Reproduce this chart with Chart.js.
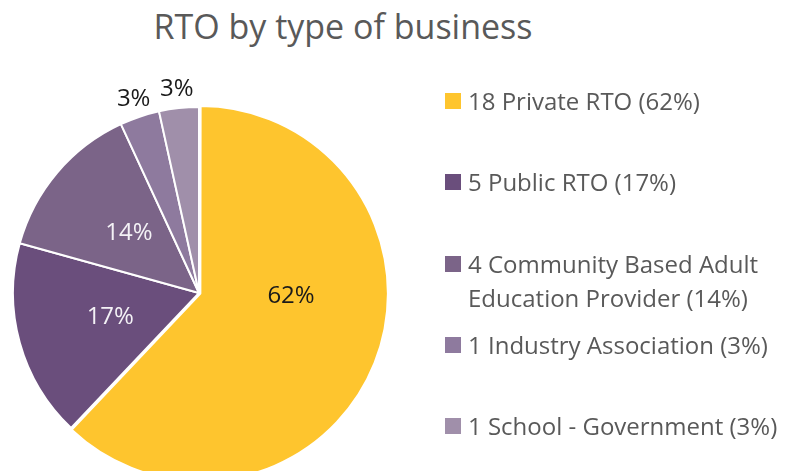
<!DOCTYPE html>
<html>
<head>
<meta charset="utf-8">
<title>RTO by type of business</title>
<script src="https://cdn.jsdelivr.net/npm/chart.js@4.4.1/dist/chart.umd.min.js"></script>
<style>
  body { margin: 0; background: #fff; font-family: "Open Sans", sans-serif; }
  #wrap { position: relative; width: 788px; height: 471px; overflow: hidden; }
  #title { position: absolute; left: 0; top: 9px; width: 686px; text-align: center;
           font-size: 34px; line-height: 34px; color: #595959; }
  canvas { position: absolute; left: 0; top: 0; }
  .item { position: absolute; left: 445px; width: 343px; font-size: 24px; line-height: 34px; color: #595959; }
  .item .box { position: absolute; left: 0; top: 9px; width: 16px; height: 16px; }
  .item .txt { margin-left: 23px; width: 326px; }
</style>
</head>
<body>
<div id="wrap">
  <div id="title">RTO by type of business</div>
  <canvas id="chart" width="788" height="471"></canvas>
  <div id="legend"></div>
</div>
<script>
// RTO counts by type of business
const categories = ["Private RTO", "Public RTO", "Community Based Adult Education Provider", "Industry Association", "School - Government"];
const counts = [18, 5, 4, 1, 1];
const colors = ["#FEC52E", "#6A4E7C", "#7B6488", "#8E7A9E", "#A08FAA"];

const total = counts.reduce((a, b) => a + b, 0);
const pct = counts.map(v => Math.round(v / total * 100));

// legend on the right, one slot per type
const legend = document.getElementById("legend");
categories.forEach((name, i) => {
    const item = document.createElement("div");
    item.className = "item";
    item.style.top = (84 + i * 81.3) + "px";
    item.innerHTML = `<span class="box" style="background:${colors[i]}"></span>` +
        `<div class="txt">${counts[i]} ${name} (${pct[i]}%)</div>`;
    legend.appendChild(item);
});

// label placement: big slice label is turned a bit towards 3 o'clock
const labelTurn = [-20, 0, 0, 0, 0];

const pieLabels = {
    id: "pieLabels",
    afterDatasetsDraw(chart) {
        const ctx = chart.ctx;
        const meta = chart.getDatasetMeta(0);
        ctx.save();
        ctx.font = "24px 'Open Sans', sans-serif";
        ctx.textAlign = "center";
        ctx.textBaseline = "middle";
        meta.data.forEach((arc, i) => {
            const p = arc.getProps(["x", "y", "startAngle", "endAngle", "outerRadius"], true);
            const mid = (p.startAngle + p.endAngle) / 2 + labelTurn[i] * Math.PI / 180;
            const outside = pct[i] < 5;
            const r = p.outerRadius * (outside ? 1.1 : 0.495);
            const x = p.x + Math.cos(mid) * r;
            const y = p.y + Math.sin(mid) * r;
            ctx.fillStyle = (outside || i === 0) ? "#1a1a1a" : "#f4f2f6";
            ctx.fillText(pct[i] + "%", x, y);
        });
        ctx.restore();
    }
};

new Chart(document.getElementById("chart"), {
    type: "pie",
    data: {
        labels: categories,
        datasets: [{
            data: counts,
            backgroundColor: colors,
            borderColor: "#ffffff",
            borderWidth: 2,
            offset: [6, 0, 0, 0, 0],
            clip: false
        }]
    },
    options: {
        responsive: false,
        animation: false,
        radius: 186,
        layout: { padding: { left: 12, right: 402, top: 120, bottom: 5 } },
        plugins: {
            legend: { display: false },
            tooltip: { enabled: false }
        }
    },
    plugins: [pieLabels]
});
</script>
</body>
</html>
